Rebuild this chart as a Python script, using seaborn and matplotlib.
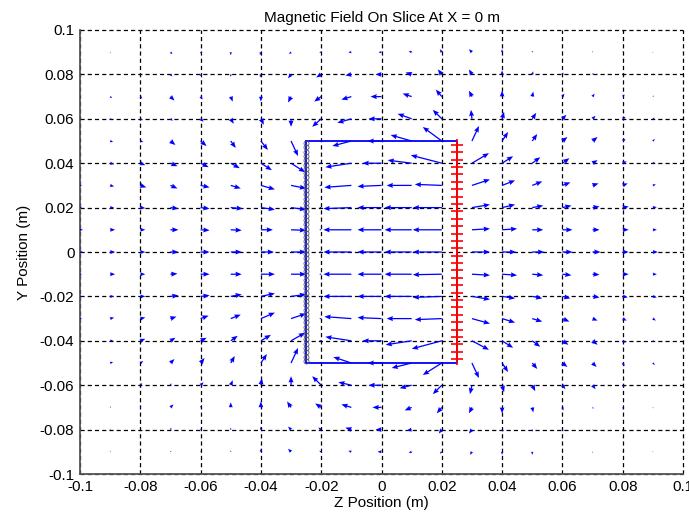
import numpy as np
import matplotlib
matplotlib.use("Agg")
import matplotlib.pyplot as plt
import seaborn as sns

# ---- data -------------------------------------------------------------
# grid sample positions (m)
z_grid = [round(-0.1 + 0.01 * k, 2) for k in range(21)]
y_grid = [round(0.1 - 0.01 * k, 2) for k in range(21)]   # rows: top -> bottom

# field components on the grid (arbitrary units), rows follow y_grid
BZ = [
    [0, 0, 0, 0, 0, -0.5, -1, -1, -1, -1.5, -1.5, -1.5, -1, -1, 0, 0, 0, 0, 0, 0, 0],
    [0.5, 0.5, 1, 2, 1, 0, -1, -2, -2, -3, -3, -3, -2, -3, 0, 0.5, 0.5, 0.5, 0.5, 0.5, 0.5],
    [0.5, 1, 1, 2, 1.5, 0, -1, -3, -5, -6, -6, -6, -4, -3, 0, 1, 1, 1, 1, 0.5, 0.5],
    [1, 2, 2, 4, 2, 2, 0, -3, -7, -10, -11, -9, -6, -3, 0, 1, 2, 2, 2, 1, 1],
    [1, 2, 2, 2.5, 3, 3, 3, 0, -9, -14, -13, -14, -9, -1, 2, 4, 4, 3, 3, 2, 1],
    [1, 3, 3, 5, 6, 5, 7, 7, -2, -19, -14, -21, -19, 7, 6, 5, 5, 5, 3, 2, 1],
    [1, 4, 5, 7, 8, 9, 11, 14, -2, -26, -19, -24, -31, 17, 11, 8, 7, 5, 4, 2, 1.5],
    [2, 4, 6, 7, 9, 10, 14, 15, -2, -27, -24, -25, -27, 18, 13, 10, 8, 6, 5, 3, 2],
    [2, 4, 5, 8, 9, 12, 14, 15, -2, -28, -24, -27, -29, 18, 13, 11, 9, 7, 6, 4, 3],
    [3, 5, 5, 8, 9, 11, 12, 15, -2, -28, -24, -27, -29, 18, 15, 11, 10, 7, 6, 4, 3],
    [3, 5, 5, 8, 9, 11, 13, 15, -2, -28, -24, -27, -29, 18, 14, 12, 10, 8, 6, 5, 3],
    [2, 5, 5, 7, 9, 11, 14, 15, -2, -28, -24, -27, -29, 18, 15, 11, 9, 7, 6, 4, 3],
    [2, 4, 5, 8, 9, 11, 14, 15, -2, -28, -24, -27, -29, 18, 13, 10, 8, 7, 5, 4, 3],
    [2, 4, 5, 6, 8, 10, 14, 15, -2, -27, -24, -25, -27, 18, 13, 10, 7, 5, 4, 3, 2],
    [1, 3, 5, 5, 6, 7, 10, 14, -2, -26, -19, -26, -30, 17, 11, 8, 6, 5, 3, 2, 1.5],
    [1, 3, 3, 4, 4, 4, 6, 7, -2, -18, -14, -20, -19, 7, 6, 5, 5, 4, 2, 2, 1],
    [1, 1, 2, 1, 3, 2, 1, 0, -9, -13, -13, -12, -9, -2, 2, 3, 3, 3, 2, 1, 1],
    [0.5, 1, 1, 3, 1, 0, 0, -4, -6, -10, -9, -7, -5, -3, 0, 1, 1, 1, 1, 0.5, 0.5],
    [0.5, 0.5, 0.5, 1, 1, 0, 0, -3, -3, -6, -6, -5, -3, -3, 0, 0.5, 1, 0.5, 0.5, 0.5, 0.5],
    [0.5, 0.5, 0.5, 1, 1, 0, 0, -3, -2, -3, -4, -3, -2, -2, 0, 0, 0.5, 0.5, 0.5, 0.5, 0.5],
    [0, 0, 0, 0, 0, -0.5, -1, -1, -1, -1.5, -1.5, -1.5, -1, -1, 0, 0, 0, 0, 0, 0, 0],
]
BY = [
    [-1.4, -1.4, -1.4, -1.4, -1.4, -1.4, -1.4, -0.7, 0, 0, 0, 0, 0.7, 1.4, 1.4, 1.4, 1.4, 1.4, 1.4, 1.4, 1.4],
    [-0.7, -1.4, -1.4, -2.7, -2.7, -4.1, -4.1, -2.7, 0, 0, 0, 1.4, 4.1, 4.1, 4.1, 2.0, 1.4, 1.4, 1.4, 0.7, 0.7],
    [-0.7, -1.4, -1.4, -2.7, -3.4, -3.4, -4.1, -5.4, -4.1, -1.4, 0, 2.7, 6.8, 6.8, 5.4, 4.1, 2.7, 2.0, 1.4, 1.4, 0.7],
    [-0.7, -2.0, -2.7, -5.4, -4.1, -6.8, -6.8, -8.1, -6.8, -4.1, 0, 4.1, 9.5, 8.1, 8.1, 6.8, 4.1, 4.1, 2.7, 1.4, 1.4],
    [-0.7, -0.7, -2.0, -2.7, -4.1, -6.8, -8.1, -10.9, -10.9, -5.4, 0, 6.8, 12.2, 12.2, 9.5, 8.1, 5.4, 4.1, 2.7, 1.4, 1.4],
    [-0.7, -1.4, -1.4, -5.4, -6.8, -9.5, -12.2, -20.4, 0, -6.8, 0, 8.1, 19.0, 20.4, 12.2, 9.5, 5.4, 5.4, 2.7, 2.7, 1.4],
    [-0.4, -1.4, -2.7, -4.1, -5.4, -6.8, -9.5, -12.2, 0, -5.4, 0, 4.1, 10.9, 13.6, 9.5, 8.1, 6.8, 4.1, 2.7, 1.4, 0.7],
    [-0.4, -1.4, -2.7, -4.1, -2.7, -4.1, -5.4, -4.1, 0, -2.7, -1.4, 0, 1.4, 8.1, 6.8, 5.4, 4.1, 2.7, 2.7, 1.4, 0.7],
    [0, 0, -0.7, -1.4, -1.4, -1.4, -2.7, -2.7, 0, -1.4, 0, 0, 0, 4.1, 4.1, 2.7, 2.7, 1.4, 1.4, 0.7, 0],
    [0, 0, 0, 0, -0.7, -0.7, 0, -0.7, 0, 0, 0, 0, 0, 1.4, 1.4, 0, 0, 0, 0, 0, 0],
    [0, 0, 0, 0, 0, 0, 0, 0, 0, 0, 0, 0, 0, 0, 0, 0, 0, 0, 0, 0, 0],
    [0, 0, 0, 0.7, 0, 0, 0, 0, 0, 0, 0, 0, -0.7, -1.4, -1.4, -1.4, -1.4, -0.7, 0, 0, 0],
    [0, 0, 0, 1.4, 1.4, 2.7, 4.1, 2.7, 0, 0, 0, 0, -1.4, -4.1, -2.7, -2.7, -2.7, -1.4, -1.4, -1.4, -0.7],
    [0.4, 1.4, 1.4, 2.7, 4.1, 5.4, 8.1, 6.8, 0, 2.7, 1.4, 0, -1.4, -6.8, -5.4, -4.1, -4.1, -2.7, -2.7, -2.7, -1.4],
    [0.4, 0.7, 2.7, 4.1, 4.1, 6.8, 8.1, 10.9, 0, 5.4, 0, -5.4, -10.9, -12.2, -9.5, -8.1, -5.4, -5.4, -2.7, -1.4, -0.7],
    [0.7, 1.4, 2.7, 5.4, 6.8, 9.5, 12.2, 20.4, 0, 8.1, 0, -6.8, -16.3, -20.4, -12.2, -8.1, -5.4, -5.4, -4.1, -2.7, -1.4],
    [0.7, 0.7, 2.7, 2.7, 4.1, 6.8, 9.5, 12.2, 12.2, 4.1, 0, -4.1, -12.2, -12.2, -9.5, -8.1, -5.4, -5.4, -2.7, -1.4, -1.4],
    [0.7, 1.4, 2.0, 4.1, 2.7, 6.8, 8.1, 8.1, 5.4, 4.1, 0, -4.1, -8.1, -8.1, -8.1, -6.8, -4.1, -2.0, -2.7, -1.4, -1.4],
    [0.7, 1.4, 1.4, 2.7, 2.0, 2.7, 4.1, 4.1, 2.7, 2.7, 0, -1.4, -5.4, -5.4, -2.7, -2.7, -2.0, -1.4, -1.4, -0.7, -0.7],
    [0.7, 1.4, 1.4, 1.4, 1.4, 2.0, 4.1, 4.1, 1.4, 1.4, 0, -1.4, -2.7, -4.1, -4.1, -4.1, -1.4, -1.4, -0.7, -0.7, -0.7],
    [1.4, 1.4, 1.4, 1.4, 1.4, 1.4, 1.4, 0.7, 0, 0, 0, 0, -0.7, -1.4, -1.4, -1.4, -1.4, -1.4, -1.4, -1.4, -1.4],
]

# magnet / coil outline (m)
magnet_z = [-0.025, 0.025]
magnet_y = [-0.05, 0.05]
n_plus = 30      # '+' markers on the right face
n_circ = 52      # 'o' markers on the left face

tick_vals = [-0.1, -0.08, -0.06, -0.04, -0.02, 0, 0.02, 0.04, 0.06, 0.08, 0.1]
tick_labels = ['-0.1', '-0.08', '-0.06', '-0.04', '-0.02', '0',
               '0.02', '0.04', '0.06', '0.08', '0.1']

title = 'Magnetic Field On Slice At X = 0 m'
xlabel = 'Z Position (m)'
ylabel = 'Y Position (m)'

# ---- drawing -----------------------------------------------------------
sns.set_theme(style="white")
plt.rcParams['font.family'] = ['Liberation Sans', 'DejaVu Sans']
plt.rcParams['lines.scale_dashes'] = False

W, H = 689, 523
fig = plt.figure(figsize=(W / 100, H / 100), dpi=100)
ax = fig.add_axes([80 / W, 49 / H, 603 / W, 444 / H])

Z, Y = np.meshgrid(z_grid, y_grid)
U = np.array(BZ, dtype=float)
V = np.array(BY, dtype=float)
ax.quiver(Z, Y, U, V, angles='xy', scale_units='xy', scale=3015,
          color=(0, 0, 1), width=0.0021, headwidth=4, headlength=5,
          headaxislength=4.5, minlength=0.6, zorder=3)

# magnet outline
z0, z1 = magnet_z
y0, y1 = magnet_y
ax.plot([z0, z1, z1, z0, z0], [y1, y1, y0, y0, y1], color=(0, 0, 1), lw=1.3, zorder=3)

# coil markers
y_plus = np.linspace(y0 + 0.0017, y1 - 0.0017, n_plus)
sns.scatterplot(x=np.full(n_plus, z1), y=y_plus, marker='+', color='red',
                s=64, linewidth=1.2, ax=ax, zorder=4, legend=False)
y_circ = np.linspace(y0 + 0.001, y1 - 0.001, n_circ)
ax.plot(np.full(n_circ, z0), y_circ, linestyle='none', marker='o', ms=3.6,
        mfc='none', mec='#555555', mew=0.6, zorder=4)

ax.set_xlim(-0.1, 0.1)
ax.set_ylim(-0.1, 0.1)
ax.set_xticks(tick_vals)
ax.set_xticklabels(tick_labels)
ax.set_yticks(tick_vals)
ax.set_yticklabels(tick_labels)

ax.set_axisbelow(True)
ax.grid(True, color='black', linestyle=(0, (3.0, 2.2)), linewidth=0.9)
for g in ax.get_xgridlines() + ax.get_ygridlines():
    g.set_clip_on(False)

for s in ['top', 'right']:
    ax.spines[s].set_visible(False)
for s in ['left', 'bottom']:
    ax.spines[s].set_color('#555555')
    ax.spines[s].set_linewidth(1.3)

ax.tick_params(axis='both', direction='in', length=3, width=0.8, color='#555555',
               labelsize=11, labelcolor='black', pad=4)

ax.set_title(title, fontsize=11, color='black', pad=6)
ax.set_xlabel(xlabel, fontsize=11, color='black', labelpad=2)
ax.set_ylabel(ylabel, fontsize=11, color='black', labelpad=6)

fig.savefig('out.png', dpi=100, facecolor='white')
